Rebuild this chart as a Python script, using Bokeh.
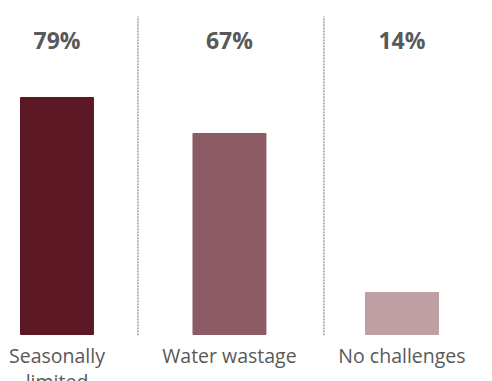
from bokeh.plotting import figure
from bokeh.models import ColumnDataSource, Range1d
from bokeh.core.properties import value
from bokeh.embed import file_html
from bokeh.resources import INLINE

categories = ["Seasonally\nlimited", "Water wastage", "No challenges"]
values = [79, 67, 14]
labels = ["79%", "67%", "14%"]
colors = ["#5B1723", "#8B5C66", "#BE9FA3"]
separators = [0.4696, 1.5478]

xs = list(range(len(categories)))
src = ColumnDataSource(dict(x=xs, top=values, lab=labels, cat=categories, color=colors,
                            ly=[98.3] * 3, cy=[-2.6] * 3))

p = figure(width=492, height=381, output_backend="svg", toolbar_location=None,
           x_range=Range1d(-0.3275, 2.525), y_range=Range1d(-15.67, 111.33),
           min_border=0, min_border_left=0, min_border_right=0,
           min_border_top=0, min_border_bottom=0)
p.axis.visible = False
p.grid.visible = False
p.outline_line_color = None
p.background_fill_color = "white"
p.border_fill_color = "white"

p.vbar(x="x", top="top", bottom=0, width=0.423, color="color", source=src)

p.segment(x0=separators, x1=separators, y0=[-0.3] * 2, y1=[106] * 2,
          line_color="#6F6F6F", line_width=1, line_dash="2 1")

p.text(x="x", y="ly", text="lab", source=src, text_align="center", text_baseline="middle",
       text_font=value("Open Sans"), text_font_style="bold", text_font_size="23px",
       text_color="#595959")
p.text(x="x", y="cy", text="cat", source=src, text_align="center", text_baseline="top",
       text_font=value("Open Sans"), text_font_size="19.5px", text_color="#595959",
       text_line_height=0.95)

open("out.html", "w").write(file_html(p, INLINE))
